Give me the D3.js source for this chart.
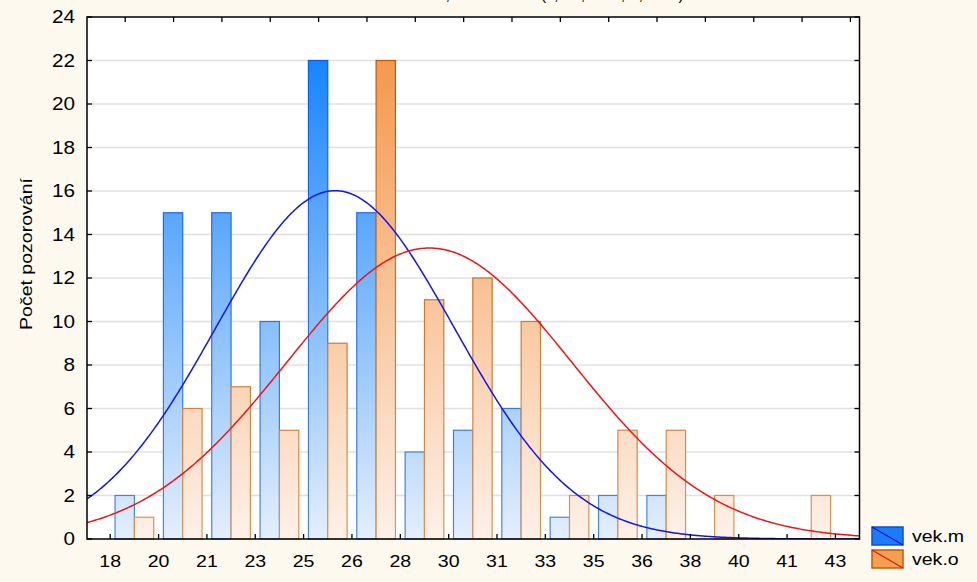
<!DOCTYPE html>
<html>
<head>
<meta charset="utf-8">
<script src="https://cdn.jsdelivr.net/npm/d3@7"></script>
<style>
  html, body { margin: 0; padding: 0; background: #fdf9ee; }
  svg { display: block; font-family: "Liberation Sans", Arial, sans-serif; }
</style>
</head>
<body>
<svg id="chart" width="977" height="582"></svg>
<script>
// Bin edges of the histogram (age in years) and their printed labels
const binEdges = [18, 19.667, 21.333, 23, 24.667, 26.333, 28, 29.667, 31.333, 33, 34.667, 36.333, 38, 39.667, 41.333, 43];
const tickLabels = ["18", "20", "21", "23", "25", "26", "28", "30", "31", "33", "35", "36", "38", "40", "41", "43"];

// Counts per bin for both variables
const seriesNames = ["vek.m", "vek.o"];
const vekM = [2, 15, 15, 10, 22, 15, 4, 5, 6, 1, 2, 2, 0, 0, 0];
const vekO = [1, 6, 7, 5, 9, 22, 11, 12, 10, 2, 5, 5, 2, 0, 2];

// Fitted normal curves: N * bin width * normal(x; mean, sd)
const fitN = [99, 99];
const fitMean = [25.75, 29.0];
const fitSd = [4.11, 4.92];
const binWidth = 5 / 3;

const yTicks = [0, 2, 4, 6, 8, 10, 12, 14, 16, 18, 20, 22, 24];

const svg = d3.select("#chart");
const W = 977, H = 582;
const plot = { left: 87, right: 859.5, top: 17, bottom: 539 };
const stretch = 1.15; // glyphs are drawn slightly wide

const x = d3.scaleLinear().domain([17.2, 43.83]).range([plot.left, plot.right]);
const y = d3.scaleLinear().domain([0, 24]).range([plot.bottom, plot.top]);

svg.append("rect").attr("width", W).attr("height", H).attr("fill", "#fdf9ee");

// Partially visible title line at the very top
svg.append("text")
  .attr("x", 520).attr("y", -0.5)
  .attr("text-anchor", "middle")
  .attr("font-size", 16).attr("fill", "#000")
  .text("vek.o = 99*1,6667*normal(x; 29,0303; 4,9548)");

const defs = svg.append("defs");
function vGrad(id, top, bottom) {
  const g = defs.append("linearGradient").attr("id", id)
    .attr("gradientUnits", "userSpaceOnUse")
    .attr("x1", 0).attr("x2", 0).attr("y1", y(22)).attr("y2", y(0));
  g.append("stop").attr("offset", 0).attr("stop-color", top);
  g.append("stop").attr("offset", 1).attr("stop-color", bottom);
}
vGrad("fillM", "#1784ff", "#e4effc");
vGrad("fillO", "#f5984c", "#fdf1e8");
vGrad("strokeM", "#0c5ae0", "#4f86dc");
vGrad("strokeO", "#b85808", "#dc9458");

defs.append("clipPath").attr("id", "plotClip")
  .append("rect")
  .attr("x", plot.left).attr("y", plot.top)
  .attr("width", plot.right - plot.left).attr("height", plot.bottom - plot.top);

// Plot area
svg.append("rect")
  .attr("x", plot.left).attr("y", plot.top)
  .attr("width", plot.right - plot.left).attr("height", plot.bottom - plot.top)
  .attr("fill", "#ffffff");

// Horizontal grid
svg.append("g").selectAll("line")
  .data(yTicks.filter(d => d > 0 && d < 24))
  .join("line")
  .attr("x1", plot.left).attr("x2", plot.right)
  .attr("y1", d => y(d)).attr("y2", d => y(d))
  .attr("stroke", "#e0e0e0").attr("stroke-width", 1.5);

// Bars: each bin holds a pair, vek.m on the left, vek.o on the right
const bins = vekM.map((m, i) => ({ i, start: binEdges[i], end: binEdges[i + 1], m, o: vekO[i] }));
const barsG = svg.append("g");
const series = [
  { key: "m", fill: "url(#fillM)", stroke: "url(#strokeM)", from: 0.1, to: 0.5 },
  { key: "o", fill: "url(#fillO)", stroke: "url(#strokeO)", from: 0.5, to: 0.9 }
];
series.forEach(s => {
  barsG.append("g").selectAll("rect")
    .data(bins.filter(b => b[s.key] > 0))
    .join("rect")
    .attr("x", b => x(b.start + (b.end - b.start) * s.from))
    .attr("width", b => x(b.start + (b.end - b.start) * s.to) - x(b.start + (b.end - b.start) * s.from))
    .attr("y", b => y(b[s.key]))
    .attr("height", b => y(0) - y(b[s.key]))
    .attr("fill", s.fill)
    .attr("stroke", s.stroke)
    .attr("stroke-width", 1.2);
});

// Normal curves
const curveColors = ["#1414f0", "#f01414"];
const xs = d3.range(17.2, 43.9, 0.05);
fitMean.forEach((mu, k) => {
  const sd = fitSd[k];
  const f = v => fitN[k] * binWidth * Math.exp(-((v - mu) ** 2) / (2 * sd * sd)) / (sd * Math.sqrt(2 * Math.PI));
  svg.append("path")
    .attr("clip-path", "url(#plotClip)")
    .attr("d", d3.line().x(v => x(v)).y(v => y(f(v))).curve(d3.curveLinear)(xs))
    .attr("fill", "none")
    .attr("stroke", curveColors[k])
    .attr("stroke-width", 1.5);
});

// Frame
svg.append("rect")
  .attr("x", plot.left).attr("y", plot.top)
  .attr("width", plot.right - plot.left).attr("height", plot.bottom - plot.top)
  .attr("fill", "none").attr("stroke", "#000").attr("stroke-width", 1.5);

// Inward tick marks
const tickLen = 5;
const ticksG = svg.append("g").attr("stroke", "#000").attr("stroke-width", 1.3);
yTicks.forEach(t => {
  ticksG.append("line").attr("x1", plot.left).attr("x2", plot.left + tickLen).attr("y1", y(t)).attr("y2", y(t));
  ticksG.append("line").attr("x1", plot.right).attr("x2", plot.right - tickLen).attr("y1", y(t)).attr("y2", y(t));
});
binEdges.forEach(e => {
  ticksG.append("line").attr("x1", x(e)).attr("x2", x(e)).attr("y1", plot.bottom).attr("y2", plot.bottom - tickLen);
  ticksG.append("line").attr("x1", x(e) + 15).attr("x2", x(e) + 15).attr("y1", plot.top).attr("y2", plot.top + tickLen);
});

// Y tick labels
svg.append("g").selectAll("text")
  .data(yTicks)
  .join("text")
  .attr("transform", d => `translate(75,${y(d)}) scale(${stretch},1)`)
  .attr("dy", "0.36em")
  .attr("text-anchor", "end")
  .attr("font-size", 18).attr("fill", "#000")
  .text(d => d);

// X tick labels
svg.append("g").selectAll("text")
  .data(binEdges)
  .join("text")
  .attr("transform", d => `translate(${x(d)},567) scale(${stretch},1)`)
  .attr("text-anchor", "middle")
  .attr("font-size", 17).attr("fill", "#000")
  .text((d, i) => tickLabels[i]);

// Y axis title
svg.append("text")
  .attr("transform", `translate(32,254) rotate(-90) scale(${stretch},1)`)
  .attr("text-anchor", "middle")
  .attr("font-size", 17).attr("fill", "#000")
  .text("Počet pozorování");

// Legend
const legend = [
  { name: seriesNames[0], fill: "#1a7cf8", stroke: "#0b50d0", line: "#1010d8" },
  { name: seriesNames[1], fill: "#f5a050", stroke: "#c05a10", line: "#f01010" }
];
legend.forEach((d, i) => {
  const g = svg.append("g").attr("transform", `translate(872,${527 + i * 23})`);
  g.append("rect").attr("width", 31).attr("height", 18)
    .attr("fill", d.fill).attr("stroke", d.stroke).attr("stroke-width", 1.5);
  g.append("line").attr("x1", 0).attr("y1", 0).attr("x2", 31).attr("y2", 18)
    .attr("stroke", d.line).attr("stroke-width", 1.2);
  g.append("text").attr("transform", `translate(40,15) scale(${stretch},1)`)
    .attr("font-size", 17).attr("fill", "#000").text(d.name);
});
</script>
</body>
</html>
